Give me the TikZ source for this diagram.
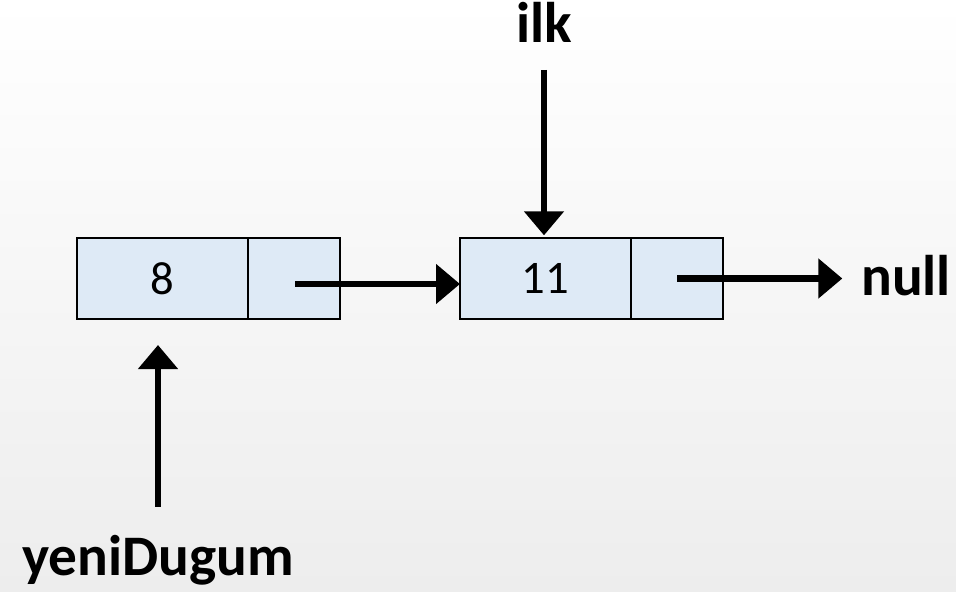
\documentclass[tikz,border=0pt]{standalone}
\usepackage{fontspec}
\setmainfont{Carlito}
\usepackage{tikz}
\usetikzlibrary{arrows.meta,calc,positioning}
\definecolor{CellBlue}{HTML}{DEEAF6}
\definecolor{BgGrey}{HTML}{EDEDED}

\begin{document}
\begin{tikzpicture}[
      x=0.75pt,y=-0.75pt,
      cell/.style={draw=black,fill=CellBlue,line width=1.1pt,minimum height=60.75pt,inner sep=0pt,outer sep=0pt,font=\fontsize{35}{40}\selectfont},
      lbl/.style={inner sep=0pt,font=\fontsize{43}{50}\selectfont\bfseries},
      ptr/.style={line width=5.2pt,-{Triangle[length=18pt,width=29pt]}}
    ]
      \shade[top color=white,bottom color=BgGrey] (0,0) rectangle (956,592);
      \useasboundingbox (0,0) rectangle (956,592);
      % first node: 8
      \node[cell,minimum width=128.25pt] (va) at (162.5,278.5) {8};
      \node[cell,minimum width=69pt,right=0pt of va] (pa) {};
      % second node: 11
      \node[cell,minimum width=128.25pt,right=90pt of pa] (vb) {11};
      \node[cell,minimum width=69pt,right=0pt of vb] (pb) {};
      % labels
      \node[lbl,anchor=base] (ilk) at (544,43) {ilk};
      \node[lbl,anchor=base west] (null) at (861,295) {null};
      \node[lbl,anchor=base] (yeni) at (158,575) {yeniDugum};
      \coordinate (sa) at (295,284);
      \coordinate (sb) at (677,278.5);
      % pointers
      \draw[ptr] (sa) -- (sa -| vb.west);
      \draw[ptr] (sb) -- ([xshift=-14pt]sb -| null.west);
      \draw[ptr] ([yshift=-20pt]ilk.south) -- ([yshift=2pt]ilk.south |- vb.north);
      \draw[ptr] ([yshift=21pt]yeni.north) -- ([yshift=-19.5pt]yeni.north |- va.south);
    \end{tikzpicture}
\end{document}
